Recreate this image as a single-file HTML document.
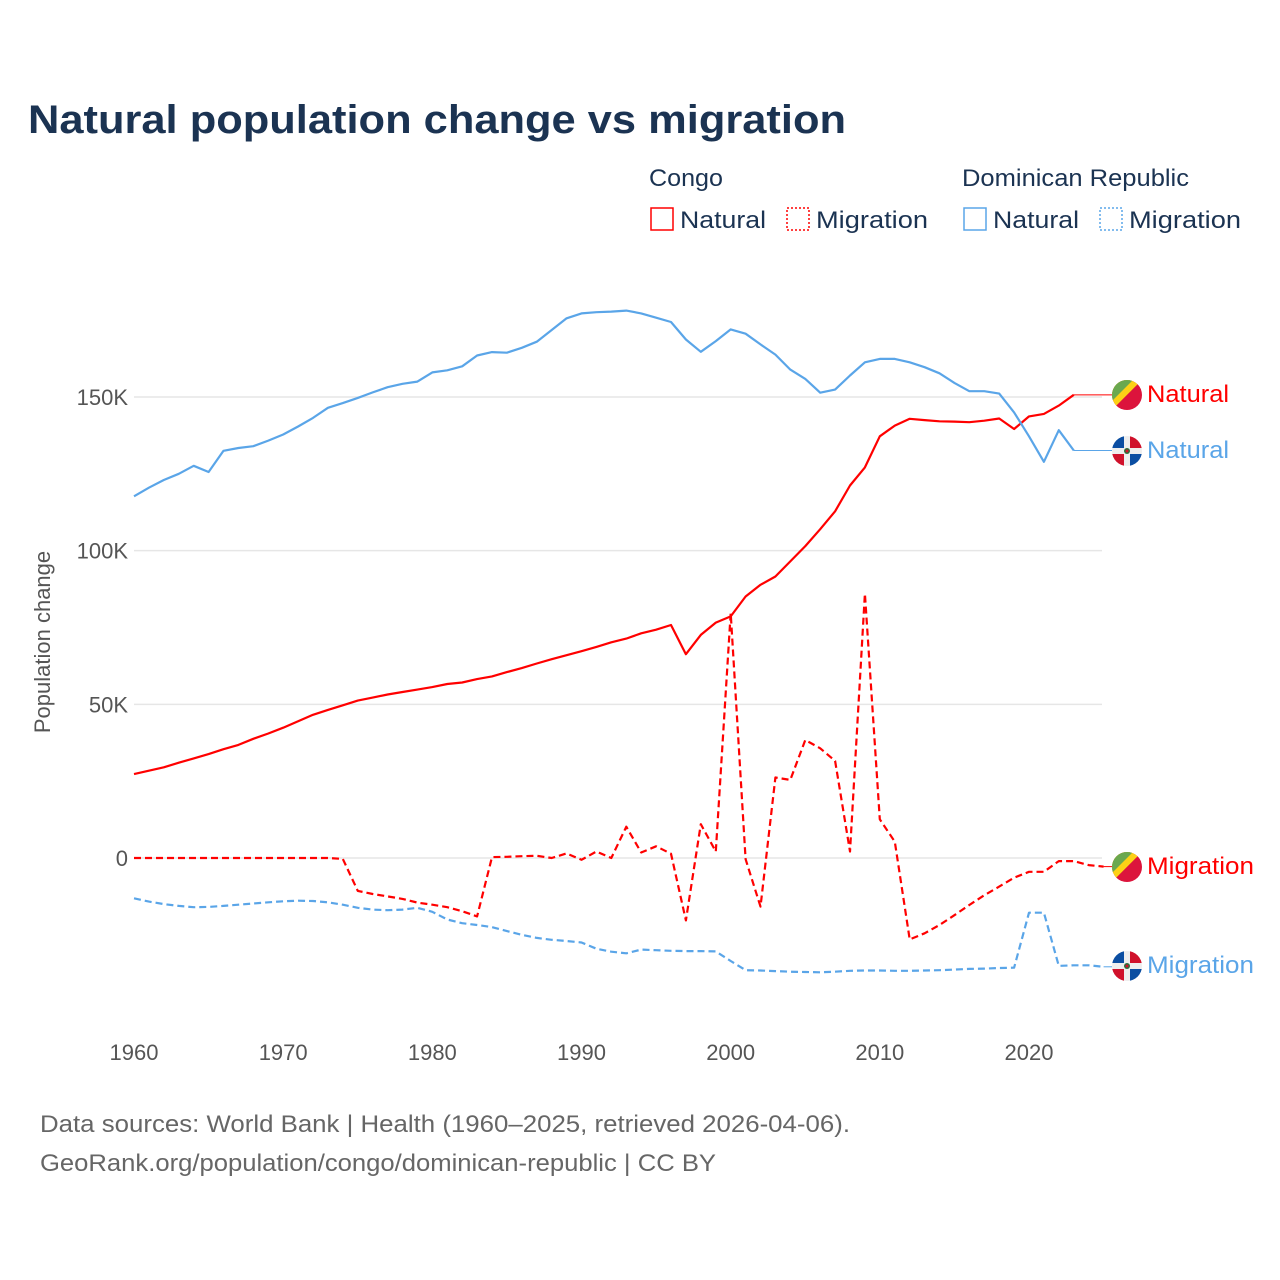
<!DOCTYPE html>
<html><head><meta charset="utf-8"><style>
html,body{margin:0;padding:0;background:#fff;}
svg{display:block;font-family:"Liberation Sans",sans-serif;}
</style></head><body>
<svg id="chart" width="1280" height="1280" viewBox="0 0 1280 1280" xmlns="http://www.w3.org/2000/svg">
<defs>
<clipPath id="fc"><circle cx="0" cy="0" r="15"/></clipPath>
</defs>
<text x="28" y="133" font-size="40" font-weight="bold" fill="#1b3352" textLength="818" lengthAdjust="spacingAndGlyphs">Natural population change vs migration</text>
<g>
<text x="649" y="186" font-size="24" fill="#1b3352" textLength="74" lengthAdjust="spacingAndGlyphs">Congo</text>
<text x="962" y="186" font-size="24" fill="#1b3352" textLength="227" lengthAdjust="spacingAndGlyphs">Dominican Republic</text>
<g><rect x="651" y="208" width="22" height="22" fill="none" stroke="#f00" stroke-width="1.5"/><text x="680" y="228" font-size="24" fill="#1b3352" textLength="86" lengthAdjust="spacingAndGlyphs">Natural</text></g>
<g><rect x="787" y="208" width="22" height="22" fill="none" stroke="#f00" stroke-width="1.5" stroke-dasharray="2,2"/><text x="816" y="228" font-size="24" fill="#1b3352" textLength="112" lengthAdjust="spacingAndGlyphs">Migration</text></g>
<g><rect x="964" y="208" width="22" height="22" fill="none" stroke="#5aa5e8" stroke-width="1.5"/><text x="993" y="228" font-size="24" fill="#1b3352" textLength="86" lengthAdjust="spacingAndGlyphs">Natural</text></g>
<g><rect x="1100" y="208" width="22" height="22" fill="none" stroke="#5aa5e8" stroke-width="1.5" stroke-dasharray="2,2"/><text x="1129" y="228" font-size="24" fill="#1b3352" textLength="112" lengthAdjust="spacingAndGlyphs">Migration</text></g>
</g>
<g id="grid"></g>
<g id="yticks"></g>
<g id="xticks"></g>
<text transform="translate(50,642) rotate(-90)" text-anchor="middle" font-size="22" fill="#555">Population change</text>
<g id="series"></g>
<g id="labels"></g>
<text x="40" y="1132" font-size="24" fill="#666" textLength="810" lengthAdjust="spacingAndGlyphs">Data sources: World Bank | Health (1960–2025, retrieved 2026-04-06).</text>
<text x="40" y="1171" font-size="24" fill="#666" textLength="676" lengthAdjust="spacingAndGlyphs">GeoRank.org/population/congo/dominican-republic | CC BY</text>
</svg>
<script>
const congoNaturalYears0 = 1960;
const congoNatural = [27.3,28.4,29.5,31,32.4,33.8,35.4,36.8,38.8,40.5,42.4,44.5,46.6,48.2,49.7,51.2,52.2,53.2,54,54.8,55.6,56.6,57.1,58.2,59.1,60.5,61.8,63.3,64.7,66,67.3,68.7,70.2,71.4,73.1,74.3,75.8,66.3,72.6,76.6,78.6,85.1,88.9,91.6,96.5,101.5,107,112.8,121.2,127.1,137.2,140.7,142.9,142.5,142.1,142,141.8,142.3,143,139.6,143.7,144.5,147.2,150.7];
const congoMigration = [0,0,0,0,0,0,0,0,0,0,0,0,0,0,-0.3,-10.7,-11.7,-12.5,-13.3,-14.5,-15.2,-16,-17.3,-19,0.3,0.4,0.6,0.7,0,1.5,-0.6,2.1,0,10.2,1.8,3.8,1.4,-20.3,11,2.1,79.7,-0.4,-15.8,26.2,25.4,38.4,35.7,31.6,2.1,86,12.6,5.3,-26.5,-24.5,-21.8,-18.6,-15.3,-12.1,-9.3,-6.4,-4.5,-4.5,-1,-1,-2.3,-2.8];
const drNatural = [117.7,120.5,123,125,127.6,125.6,132.5,133.4,134,135.8,137.8,140.4,143.2,146.5,148,149.7,151.5,153.2,154.3,155,158,158.7,160,163.5,164.6,164.4,166,168,171.8,175.6,177.2,177.6,177.8,178.1,177.2,175.8,174.4,168.7,164.7,168.2,172,170.6,167.1,163.8,158.9,155.9,151.4,152.4,157,161.3,162.4,162.4,161.3,159.7,157.7,154.6,151.9,151.9,151.1,145,137.2,128.9,139.2,132.6];
const drMigration = [-13.1,-14.2,-15,-15.6,-16,-15.9,-15.6,-15.2,-14.8,-14.4,-14.1,-13.9,-14,-14.4,-15.2,-16.2,-16.8,-17,-16.8,-16.2,-17.5,-20,-21.2,-21.8,-22.5,-23.8,-25,-26,-26.6,-27,-27.5,-29.5,-30.5,-31,-29.8,-30,-30.2,-30.3,-30.3,-30.4,-33.5,-36.5,-36.6,-36.8,-37,-37.1,-37.2,-37,-36.7,-36.6,-36.6,-36.7,-36.7,-36.6,-36.5,-36.3,-36.1,-36,-35.8,-35.7,-17.8,-17.8,-35.1,-34.9,-34.9,-35.4];
const yTickValues = [0,50,100,150];
const yTickLabels = ["0","50K","100K","150K"];
const xTickValues = [1960,1970,1980,1990,2000,2010,2020];

const NS="http://www.w3.org/2000/svg";
function x(year){return 134+(year-1960)*(1029-134)/60;}
function y(v){return 858-v*(858-397)/150;}
function mk(tag,attrs,parent){const e=document.createElementNS(NS,tag);for(const k in attrs)e.setAttribute(k,attrs[k]);parent.appendChild(e);return e;}

const grid=document.getElementById('grid'), yt=document.getElementById('yticks'), xt=document.getElementById('xticks');
yTickValues.forEach((v,i)=>{
  const l=mk('line',{x1:134,x2:1102,y1:y(v),y2:y(v),stroke:'#e6e6e6','stroke-width':1.5},grid);
  
  
  const t=mk('text',{x:128,y:y(v)+8,'text-anchor':'end','font-size':22,fill:'#555'},yt);
  t.textContent=yTickLabels[i];
  
  
});
xTickValues.forEach(v=>{
  const t=mk('text',{x:x(v),y:1060,'text-anchor':'middle','font-size':22,fill:'#555'},xt);
  t.textContent=String(v);
  
  
});

const ser=document.getElementById('series');
function line(data,color,dash,name,endY){
  const pts=data.map((v,i)=>x(1960+i).toFixed(1)+','+y(v).toFixed(1));
  const p=mk('polyline',{points:pts.join(' '),fill:'none',stroke:color,'stroke-width':2.2,'stroke-linejoin':'round'},ser);
  if(dash)p.setAttribute('stroke-dasharray','7,4');
  
  
  const last=data[data.length-1];
  const c=mk('line',{x1:x(1960+data.length-1),y1:y(last),x2:1112,y2:y(last),stroke:color,'stroke-width':1},ser);
  
  
  return y(last);
}
const yCN=line(congoNatural,'#ff0000',false,'congo-natural-line');
const yCM=line(congoMigration,'#ff0000',true,'congo-migration-line');
const yDN=line(drNatural,'#5aa5e8',false,'dr-natural-line');
const yDM=line(drMigration,'#5aa5e8',true,'dr-migration-line');

const lab=document.getElementById('labels');
function congoFlag(cy,name){
  const g=mk('g',{transform:'translate(1127,'+cy+')'},lab);
  
  
  const c=mk('g',{'clip-path':'url(#fc)'},g);
  mk('rect',{x:-16,y:-16,width:32,height:32,fill:'#dc143c'},c);
  mk('polygon',{points:'-16,-16 16,-16 -16,16',fill:'#fcd116'},c);
  mk('polygon',{points:'-16,-16 7,-16 -16,7',fill:'#6aa84f'},c);
  mk('polygon',{points:'16,-7 16,-16 -16,16 -7,16',fill:'#dc143c'},c);
}
function drFlag(cy,name){
  const g=mk('g',{transform:'translate(1127,'+cy+')'},lab);
  
  
  const c=mk('g',{'clip-path':'url(#fc)'},g);
  mk('rect',{x:-16,y:-16,width:32,height:32,fill:'#eee'},c);
  mk('rect',{x:-16,y:-16,width:13,height:13,fill:'#0b4ea2'},c);
  mk('rect',{x:3,y:-16,width:13,height:13,fill:'#d0112b'},c);
  mk('rect',{x:-16,y:3,width:13,height:13,fill:'#d0112b'},c);
  mk('rect',{x:3,y:3,width:13,height:13,fill:'#0b4ea2'},c);
  mk('circle',{cx:0,cy:0,r:3,fill:'#2a6e3a'},c);
  mk('circle',{cx:0,cy:0,r:1.5,fill:'#d0112b'},c);
}
function label(ly,txt,color,w,name){
  const t=mk('text',{x:1147,y:ly+9,'font-size':24,fill:color,textLength:w,lengthAdjust:'spacingAndGlyphs'},lab);
  t.textContent=txt;
  
  
}
congoFlag(395,'congo-flag-natural'); label(393,'Natural','#ff0000',82,'label-congo-natural');
drFlag(451,'dr-flag-natural'); label(449,'Natural','#5aa5e8',82,'label-dr-natural');
congoFlag(867,'congo-flag-migration'); label(865,'Migration','#ff0000',107,'label-congo-migration');
drFlag(966,'dr-flag-migration'); label(964,'Migration','#5aa5e8',107,'label-dr-migration');
</script>
</body></html>
